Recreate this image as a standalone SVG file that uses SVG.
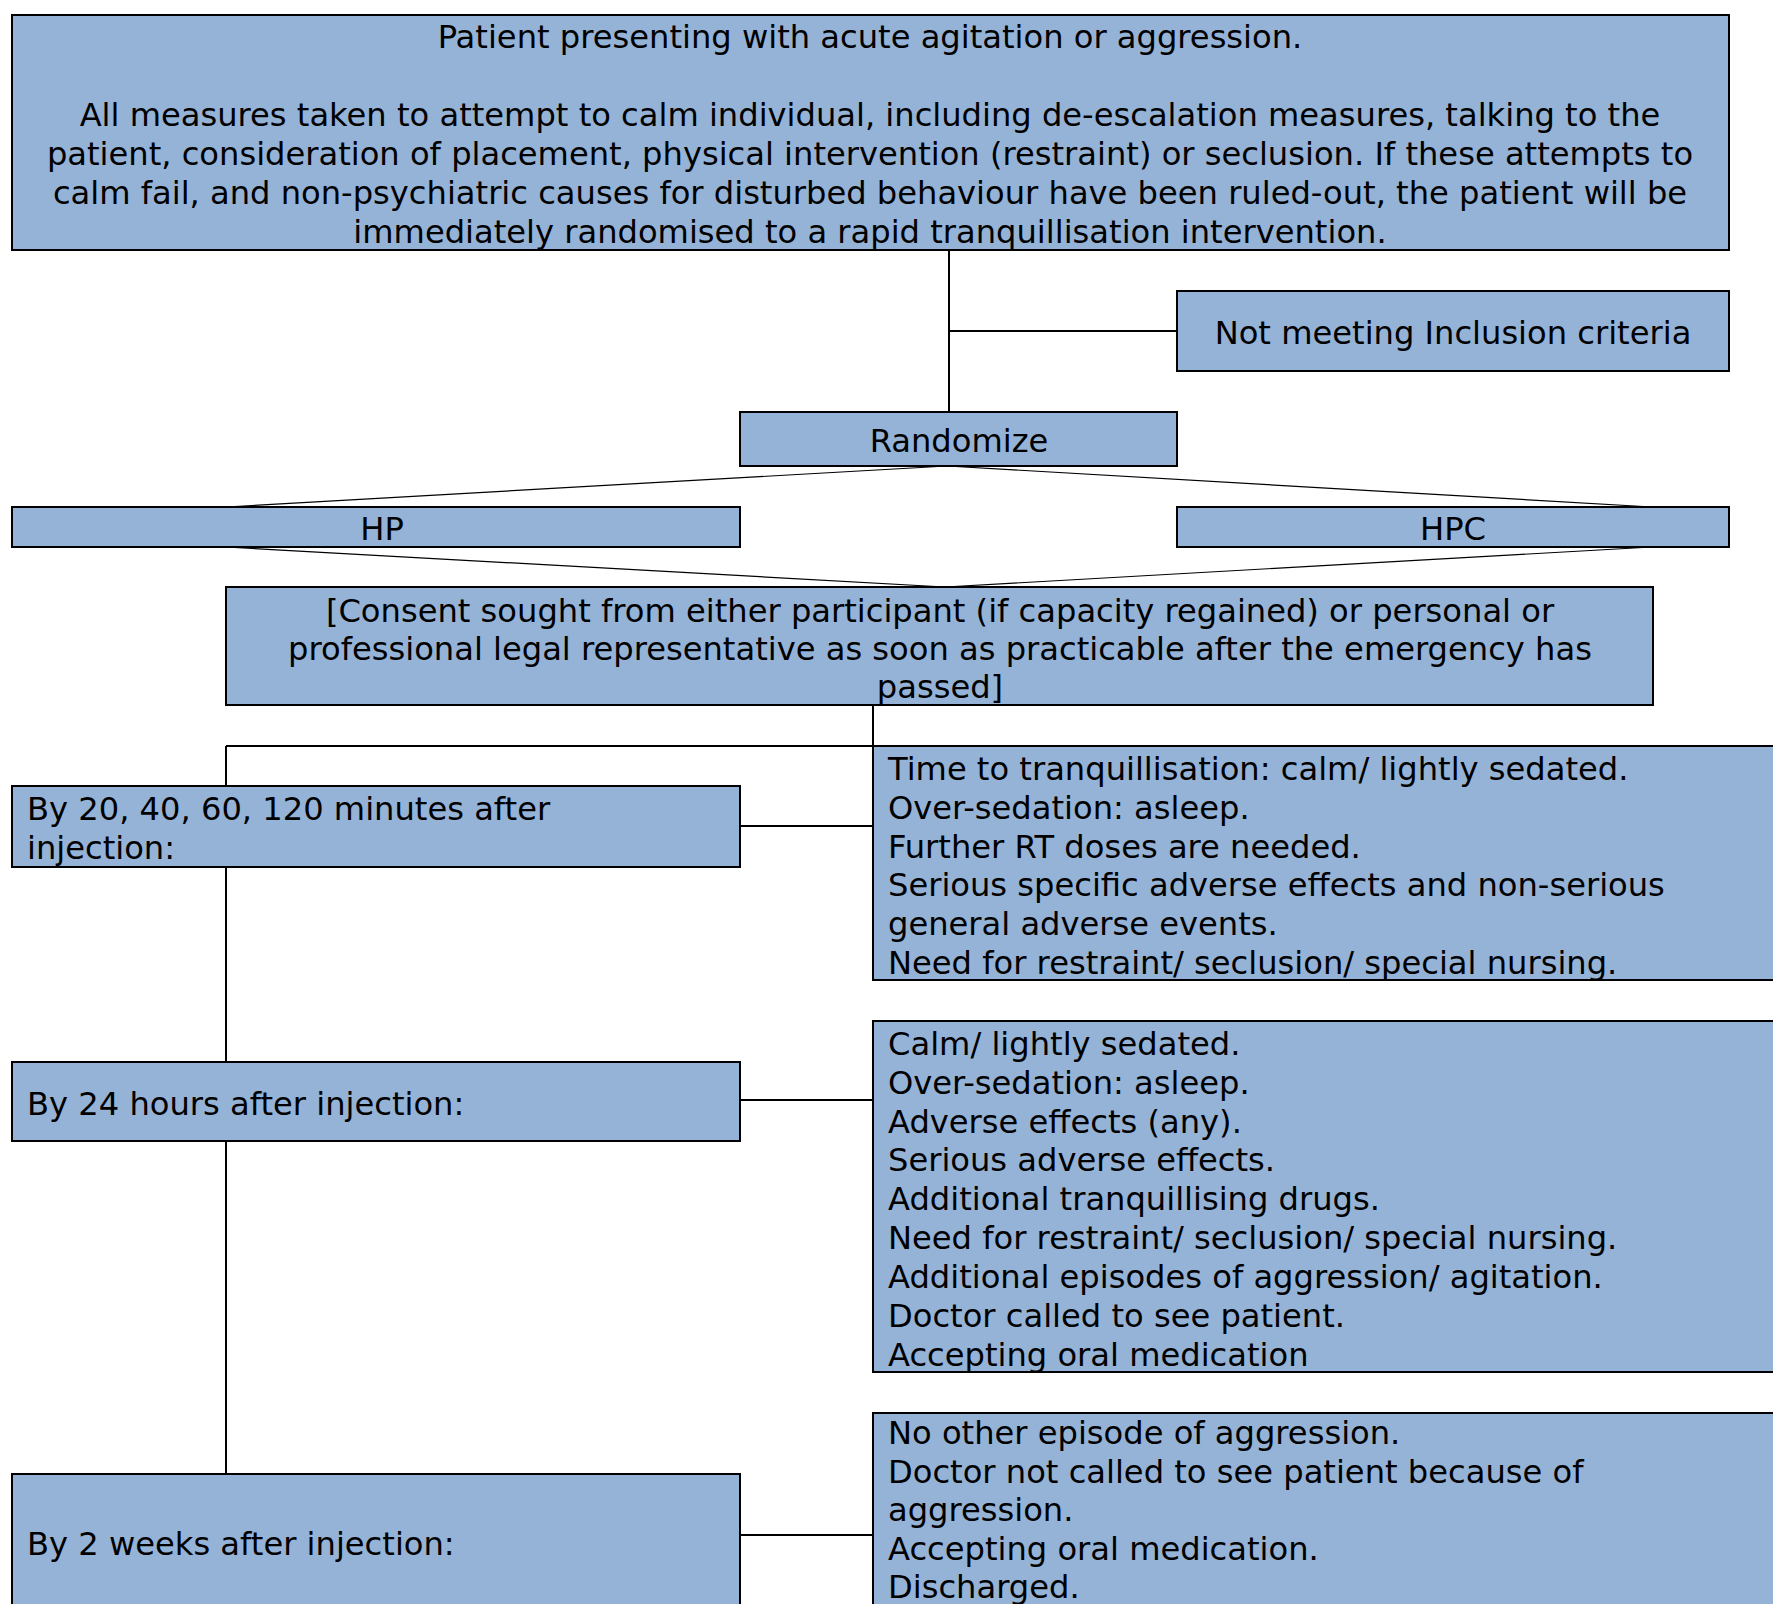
<svg xmlns="http://www.w3.org/2000/svg" width="1773" height="1604" viewBox="0 0 1773 1604">
<style>
.box{fill:#95B3D7;stroke:#000;stroke-width:2}
.t{font-family:"DejaVu Sans",Verdana,sans-serif;font-size:32.15px;fill:#000}
.c{text-anchor:middle}
.ln{stroke:#000;stroke-width:2;fill:none}
.dg{stroke:#000;stroke-width:1.2;fill:none}
</style>
<rect x="0" y="0" width="1773" height="1604" fill="#fff"/>
<g id="connectors">
<line class="ln" x1="949" y1="250" x2="949" y2="412"/>
<line class="ln" x1="949" y1="331" x2="1177" y2="331"/>
<line class="dg" x1="947" y1="466" x2="226" y2="507"/>
<line class="dg" x1="947" y1="466" x2="1652" y2="507"/>
<line class="dg" x1="226" y1="547" x2="945" y2="587"/>
<line class="dg" x1="1652" y1="547" x2="945" y2="587"/>
<line class="ln" x1="873" y1="705" x2="873" y2="746"/>
<line class="ln" x1="226" y1="746" x2="873" y2="746"/>
<line class="ln" x1="226" y1="746" x2="226" y2="786"/>
<line class="ln" x1="740" y1="826" x2="873" y2="826"/>
<line class="ln" x1="226" y1="867" x2="226" y2="1062"/>
<line class="ln" x1="740" y1="1100" x2="873" y2="1100"/>
<line class="ln" x1="226" y1="1141" x2="226" y2="1474"/>
<line class="ln" x1="740" y1="1535" x2="873" y2="1535"/>
</g>
<g id="start">
<rect class="box" x="12" y="15" width="1717" height="235"/>
<text class="t c" x="870" y="48">Patient presenting with acute agitation or aggression.</text>
<text class="t c" x="870" y="126">All measures taken to attempt to calm individual, including de-escalation measures, talking to the</text>
<text class="t c" x="870" y="165">patient, consideration of placement, physical intervention (restraint) or seclusion. If these attempts to</text>
<text class="t c" x="870" y="204">calm fail, and non-psychiatric causes for disturbed behaviour have been ruled-out, the patient will be</text>
<text class="t c" x="870" y="243">immediately randomised to a rapid tranquillisation intervention.</text>
</g>
<g id="excluded">
<rect class="box" x="1177" y="291" width="552" height="80"/>
<text class="t c" x="1453" y="344">Not meeting Inclusion criteria</text>
</g>
<g id="randomize">
<rect class="box" x="740" y="412" width="437" height="54"/>
<text class="t c" x="959" y="452">Randomize</text>
</g>
<g id="hp">
<rect class="box" x="12" y="507" width="728" height="40"/>
<text class="t c" x="382" y="540">HP</text>
</g>
<g id="hpc">
<rect class="box" x="1177" y="507" width="552" height="40"/>
<text class="t c" x="1453" y="540">HPC</text>
</g>
<g id="consent">
<rect class="box" x="226" y="587" width="1427" height="118"/>
<text class="t c" x="940" y="622">[Consent sought from either participant (if capacity regained) or personal or</text>
<text class="t c" x="940" y="660">professional legal representative as soon as practicable after the emergency has</text>
<text class="t c" x="940" y="698">passed]</text>
</g>
<g id="t120">
<rect class="box" x="12" y="786" width="728" height="81"/>
<text class="t" x="27" y="820">By 20, 40, 60, 120 minutes after</text>
<text class="t" x="27" y="859">injection:</text>
</g>
<g id="o120">
<rect class="box" x="873" y="746" width="960" height="234"/>
<text class="t" x="888" y="780">Time to tranquillisation: calm/ lightly sedated.</text>
<text class="t" x="888" y="819">Over-sedation: asleep.</text>
<text class="t" x="888" y="858">Further RT doses are needed.</text>
<text class="t" x="888" y="896">Serious specific adverse effects and non-serious</text>
<text class="t" x="888" y="935">general adverse events.</text>
<text class="t" x="888" y="974">Need for restraint/ seclusion/ special nursing.</text>
</g>
<g id="t24">
<rect class="box" x="12" y="1062" width="728" height="79"/>
<text class="t" x="27" y="1115">By 24 hours after injection:</text>
</g>
<g id="o24">
<rect class="box" x="873" y="1021" width="960" height="351"/>
<text class="t" x="888" y="1055">Calm/ lightly sedated.</text>
<text class="t" x="888" y="1094">Over-sedation: asleep.</text>
<text class="t" x="888" y="1133">Adverse effects (any).</text>
<text class="t" x="888" y="1171">Serious adverse effects.</text>
<text class="t" x="888" y="1210">Additional tranquillising drugs.</text>
<text class="t" x="888" y="1249">Need for restraint/ seclusion/ special nursing.</text>
<text class="t" x="888" y="1288">Additional episodes of aggression/ agitation.</text>
<text class="t" x="888" y="1327">Doctor called to see patient.</text>
<text class="t" x="888" y="1366">Accepting oral medication</text>
</g>
<g id="t2w">
<rect class="box" x="12" y="1474" width="728" height="160"/>
<text class="t" x="27" y="1555">By 2 weeks after injection:</text>
</g>
<g id="o2w">
<rect class="box" x="873" y="1413" width="960" height="230"/>
<text class="t" x="888" y="1444">No other episode of aggression.</text>
<text class="t" x="888" y="1483">Doctor not called to see patient because of</text>
<text class="t" x="888" y="1521">aggression.</text>
<text class="t" x="888" y="1560">Accepting oral medication.</text>
<text class="t" x="888" y="1598">Discharged.</text>
</g>
</svg>
